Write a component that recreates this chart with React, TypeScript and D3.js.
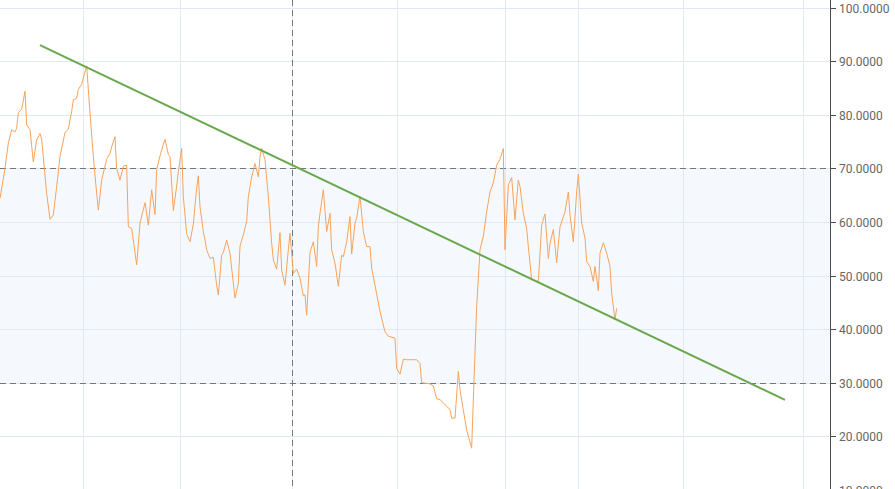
import React from "react";
import * as d3 from "d3";

// Orange series: [day index, value]
const seriesDays = [0,2,3,5,7,9,10,11,13,15,16,18,20,22,24,25,28,30,32,34,36,39,41,43,44,46,47,49,52,54,56,58,59,61,64,66,67,69,70,72,74,76,77,79,82,84,87,89,91,93,94,96,98,99,101,102,104,106,107,109,110,112,114,116,118,119,120,122,123,124,126,128,130,131,133,134,136,138,140,141,143,144,146,148,149,151,153,155,156,157,159,161,163,164,166,168,169,171,173,174,176,178,180,182,183,184,186,188,190,191,192,194,196,198,199,201,203,205,206,208,210,211,213,214,216,218,220,222,223,225,228,231,233,237,238,240,242,244,250,252,253,258,260,262,264,267,270,271,273,275,276,278,280,283,284,286,288,290,292,294,296,298,300,302,303,305,307,309,311,312,314,316,317,319,323,325,327,329,330,332,334,336,339,341,342,344,346,347,349,351,352,354,356,357,359,360,362,364,366,367,369,370];
const seriesValues = [64.4,68.1,70.0,74.7,77.2,76.8,77.5,80.4,81.0,84.4,78.1,77.2,71.2,75.3,76.5,75.4,65.3,60.5,61.3,66.6,72.2,76.7,77.3,80.6,82.8,83.1,84.7,85.7,89.1,80.3,72.2,65.3,62.2,67.8,71.7,72.8,74.0,75.9,70.0,67.8,70.4,70.6,59.1,58.8,52.0,59.8,63.6,59.4,66.0,61.4,69.8,72.3,74.5,75.4,72.6,72.2,62.1,66.7,69.4,73.7,64.7,57.8,56.3,59.6,66.3,68.6,62.8,58.2,56.6,54.8,53.2,53.4,48.2,46.4,53.8,54.3,56.6,54.2,48.6,45.8,48.6,55.5,57.6,60.1,64.7,68.4,70.9,68.4,72.1,73.7,71.6,64.7,56.0,52.9,51.2,58.0,51.0,48.2,54.8,57.9,50.4,51.2,49.5,46.2,46.4,42.6,54.3,56.3,51.7,59.1,61.6,66.0,58.2,61.6,54.8,52.3,48.0,53.8,53.5,56.3,61.0,54.0,59.8,60.7,64.8,58.2,55.4,55.4,51.4,48.2,43.3,39.5,38.7,38.3,32.7,31.6,34.4,34.3,34.3,33.6,30.0,29.8,29.4,27.0,26.9,25.9,25.0,23.4,23.4,32.1,28.7,24.9,21.2,17.8,26.8,44.2,54.8,57.3,61.9,65.6,67.3,70.6,71.7,73.7,54.8,66.9,68.3,60.4,67.8,66.6,61.6,58.8,55.4,49.2,48.9,59.4,61.5,53.2,56.0,58.6,52.4,59.1,61.9,65.6,61.3,56.3,65.6,68.9,59.8,57.0,52.6,51.7,48.9,51.7,47.2,54.2,56.1,54.2,51.7,46.7,41.7,43.9];

// Trend line endpoints
const trendDays = [24, 471];
const trendValues = [93.0, 26.8];

// Axis / grid
const yTicks = [10, 20, 30, 40, 50, 60, 70, 80, 90, 100];
const xGridDays = [50, 108, 175, 238, 303, 347, 410, 482];
const crosshairDay = 175;
const bandRange = [30, 70];

const W = 895;
const H = 489;
const plotRight = 830;

export default function App() {
  const x = d3.scaleLinear().domain([0, 498]).range([0, plotRight]);
  const y = d3.scaleLinear().domain([10, 100]).range([490, 7.5]);

  const seriesPts: [number, number][] = seriesDays.map((d, i) => [d, seriesValues[i]]);
  const trendPts: [number, number][] = trendDays.map((d, i) => [d, trendValues[i]]);
  const line = d3
    .line<[number, number]>()
    .x((d) => x(d[0]))
    .y((d) => y(d[1]));

  const fmt = d3.format(".4f");

  return (
    <svg
      width={W}
      height={H}
      style={{ position: "fixed", left: 0, top: 0, background: "#fff" }}
    >
      <defs>
        <clipPath id="plot">
          <rect x={0} y={0} width={plotRight} height={H} />
        </clipPath>
      </defs>
      <rect x={0} y={0} width={W} height={H} fill="#fff" />
      <g clipPath="url(#plot)">
        <rect
          x={0}
          y={y(bandRange[1])}
          width={plotRight}
          height={y(bandRange[0]) - y(bandRange[1])}
          fill="#f5f9fd"
        />
        {yTicks.map((t) => (
          <line
            key={"h" + t}
            x1={0}
            x2={plotRight}
            y1={Math.round(y(t)) + 0.5}
            y2={Math.round(y(t)) + 0.5}
            stroke="#e0e9f1"
            strokeWidth={1}
          />
        ))}
        {xGridDays.map((t) => (
          <line
            key={"v" + t}
            x1={Math.round(x(t)) + 0.5}
            x2={Math.round(x(t)) + 0.5}
            y1={0}
            y2={H}
            stroke="#e0e9f1"
            strokeWidth={1}
          />
        ))}
        {bandRange.map((t) => (
          <line
            key={"d" + t}
            x1={0}
            x2={plotRight}
            y1={Math.round(y(t)) + 0.5}
            y2={Math.round(y(t)) + 0.5}
            stroke="#777"
            strokeWidth={1}
            strokeDasharray="6,4"
          />
        ))}
        <line
          x1={Math.round(x(crosshairDay)) + 0.5}
          x2={Math.round(x(crosshairDay)) + 0.5}
          y1={0}
          y2={H}
          stroke="#777"
          strokeWidth={1}
          strokeDasharray="6,4"
        />
        <path d={line(seriesPts) || ""} fill="none" stroke="#f7a35c" strokeWidth={1} />
        <path d={line(trendPts) || ""} fill="none" stroke="#6aa84f" strokeWidth={2} />
      </g>
      <line x1={plotRight + 0.5} x2={plotRight + 0.5} y1={0} y2={H} stroke="#4d4d4d" strokeWidth={1} />
      {yTicks.map((t) => (
        <g key={"t" + t} transform={`translate(0,${Math.round(y(t)) + 0.5})`}>
          <line x1={plotRight} x2={plotRight + 6} stroke="#4d4d4d" strokeWidth={1} />
          <text
            x={plotRight + 9}
            y={4}
            fill="#666"
            fontSize={12}
            fontFamily="Roboto, 'Liberation Sans', sans-serif"
          >
            {fmt(t)}
          </text>
        </g>
      ))}
    </svg>
  );
}
